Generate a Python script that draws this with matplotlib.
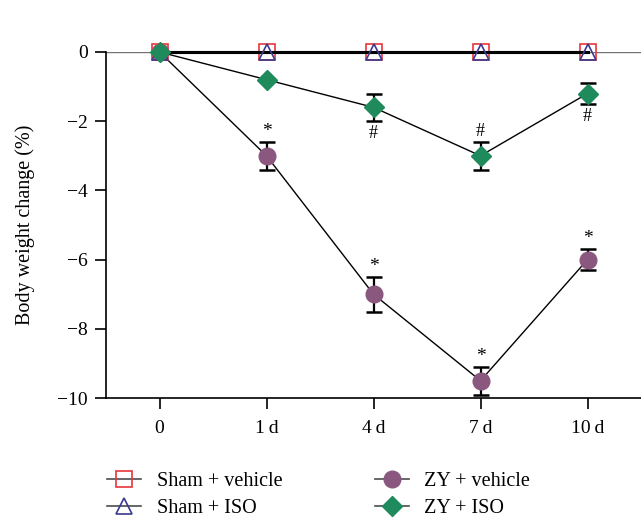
import numpy as np
import matplotlib.pyplot as plt
from matplotlib.lines import Line2D

plt.rcParams["font.family"] = ["Liberation Serif", "DejaVu Serif"]

days = ["0", "1\u2009d", "4\u2009d", "7\u2009d", "10\u2009d"]
sham_vehicle = [0, 0, 0, 0, 0]
sham_iso = [0, 0, 0, 0, 0]
zy_vehicle = [0, -3.0, -7.0, -9.5, -6.0]
zy_vehicle_sd = [0, 0.4, 0.5, 0.4, 0.3]
zy_iso = [0, -0.8, -1.6, -3.0, -1.2]
zy_iso_sd = [0, 0.0, 0.4, 0.4, 0.3]
star_days = [1, 2, 3, 4]
hash_days = [2, 3, 4]
hash_above = [False, True, False]

C_ZYV = "#8a587f"
C_ZYI = "#1f8a5b"
C_SV = "#e8373c"
C_SI = "#3b3a8f"

x = np.arange(len(days))

fig = plt.figure(figsize=(6.41, 5.22), dpi=100)
ax = fig.add_axes([0.1654, 0.2375, 0.8346, 0.6629])

ax.axhline(0, color="0.45", lw=1.0, zorder=1)

eb = dict(ecolor="black", elinewidth=1.6, capsize=6, capthick=1.8)
ax.errorbar(x, zy_vehicle, yerr=zy_vehicle_sd, color="black", lw=1.0,
            marker="o", ms=12, mfc=C_ZYV, mec=C_ZYV, clip_on=False,
            zorder=3, **eb)
ax.plot(x, sham_vehicle, color="black", lw=2.2, marker="s", ms=12,
        mfc="none", mec=C_SV, mew=1.2, clip_on=False, zorder=5)
ax.plot(x, sham_iso, color="black", lw=2.2, marker="^", ms=12,
        mfc="none", mec=C_SI, mew=1.2, clip_on=False, zorder=6)
ax.errorbar(x, zy_iso, yerr=zy_iso_sd, color="black", lw=1.0,
            marker="D", ms=10, mfc=C_ZYI, mec=C_ZYI, clip_on=False,
            zorder=7, **eb)

for i in star_days:
    ax.text(x[i], zy_vehicle[i] + zy_vehicle_sd[i] + 0.06, "*", ha="center",
            va="bottom", fontsize=14)
for i, up in zip(hash_days, hash_above):
    if up:
        ax.text(x[i], zy_iso[i] + zy_iso_sd[i] + 0.05, "#", ha="center",
                va="bottom", fontsize=13)
    else:
        ax.text(x[i], zy_iso[i] - zy_iso_sd[i] - 0.12, "#", ha="center",
                va="top", fontsize=13)

ax.set_xlim(-0.5, 4.5)
ax.set_ylim(-10, 0)
ax.set_xticks(x)
ax.set_xticklabels(days)
ax.set_yticks([0, -2, -4, -6, -8, -10])
ax.set_yticklabels(["0", "\u22122", "\u22124", "\u22126", "\u22128", "\u221210"])
ax.tick_params(labelsize=14, length=8, width=1.2, pad=5)
ax.tick_params(axis="x", pad=8)
ax.spines["top"].set_visible(False)
ax.spines["right"].set_visible(False)
ax.spines["left"].set_linewidth(1.2)
ax.spines["bottom"].set_linewidth(1.2)
ax.set_ylabel("Body weight change (%)", fontsize=14.5, labelpad=16)

handles = [
    Line2D([], [], color="0.3", lw=1.2, marker="s", ms=11, mfc="none", mec=C_SV, mew=1.2),
    Line2D([], [], color="0.3", lw=1.2, marker="^", ms=11, mfc="none", mec=C_SI, mew=1.2),
    Line2D([], [], color="0.3", lw=1.2, marker="o", ms=12, mfc=C_ZYV, mec=C_ZYV),
    Line2D([], [], color="0.3", lw=1.2, marker="D", ms=10, mfc=C_ZYI, mec=C_ZYI),
]
labels = ["Sham + vehicle", "Sham + ISO", "ZY + vehicle", "ZY + ISO"]
fig.legend(handles, labels, ncol=2, loc="lower left",
           bbox_to_anchor=(0.139, -0.027), frameon=False, fontsize=14.5,
           columnspacing=4.6, handlelength=1.7, handletextpad=0.75,
           labelspacing=0.4)
fig.savefig("out.png", dpi=100)
